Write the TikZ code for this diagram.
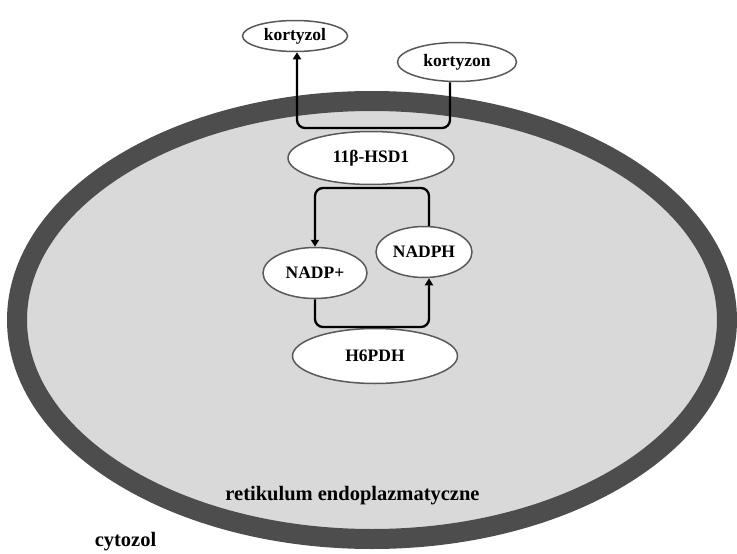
\documentclass[tikz,border=0pt]{standalone}
\usepackage{fontspec}
\setmainfont{Liberation Serif}
\usetikzlibrary{arrows.meta, shapes.geometric}
\definecolor{membrane}{HTML}{4D4D4D}
\definecolor{lumen}{HTML}{D9D9D9}

\begin{document}
\begin{tikzpicture}[
    x=1pt, y=-1pt,
    enzyme/.style={ellipse, draw=black!65, line width=1.5pt, fill=white, inner sep=0pt, font=\fontsize{17.5}{20}\selectfont\bfseries},
    region/.style={font=\fontsize{20.5}{24}\selectfont\bfseries, anchor=base, inner sep=0pt},
    arrow/.style={-{Triangle[length=7pt, width=8pt]}, line width=2.3pt, rounded corners=8pt}
]
\useasboundingbox (0,0) rectangle (737,554);

% Membrane
\draw[draw=membrane, fill=lumen, line width=20pt] (372,320) ellipse [x radius=355, y radius=219];

% Nodes
\node[enzyme, minimum width=105, minimum height=31] (kortyzol) at (295,36) {kortyzol};
\node[enzyme, minimum width=119, minimum height=39] (kortyzon) at (457,62) {kortyzon};
\node[enzyme, minimum width=166, minimum height=53] (hsd) at (371,158) {11β-HSD1};
\node[enzyme, minimum width=96, minimum height=51] (nadph) at (424,252) {NADPH};
\node[enzyme, minimum width=104, minimum height=51] (nadp) at (315,273) {NADP+};
\node[enzyme, minimum width=165, minimum height=55] (h6pdh) at (375,356) {H6PDH};
\node[region] (er) at (352.5,500) {retikulum endoplazmatyczne};
\node[region] (cyto) at (125.5,546) {cytozol};

% Arrows
\coordinate (gate) at (371,128);
\coordinate (upper) at (371,188);
\coordinate (lower) at (371,327);
\draw[arrow] ([xshift=-7pt]kortyzon.south) |- (gate) -| ([xshift=2pt]kortyzol.south);
\draw[arrow] ([xshift=5pt]nadph.north) |- (upper) -| (nadp.north);
\draw[arrow] (nadp.south) |- (lower) -| ([xshift=5pt]nadph.south);

\end{tikzpicture}
\end{document}
